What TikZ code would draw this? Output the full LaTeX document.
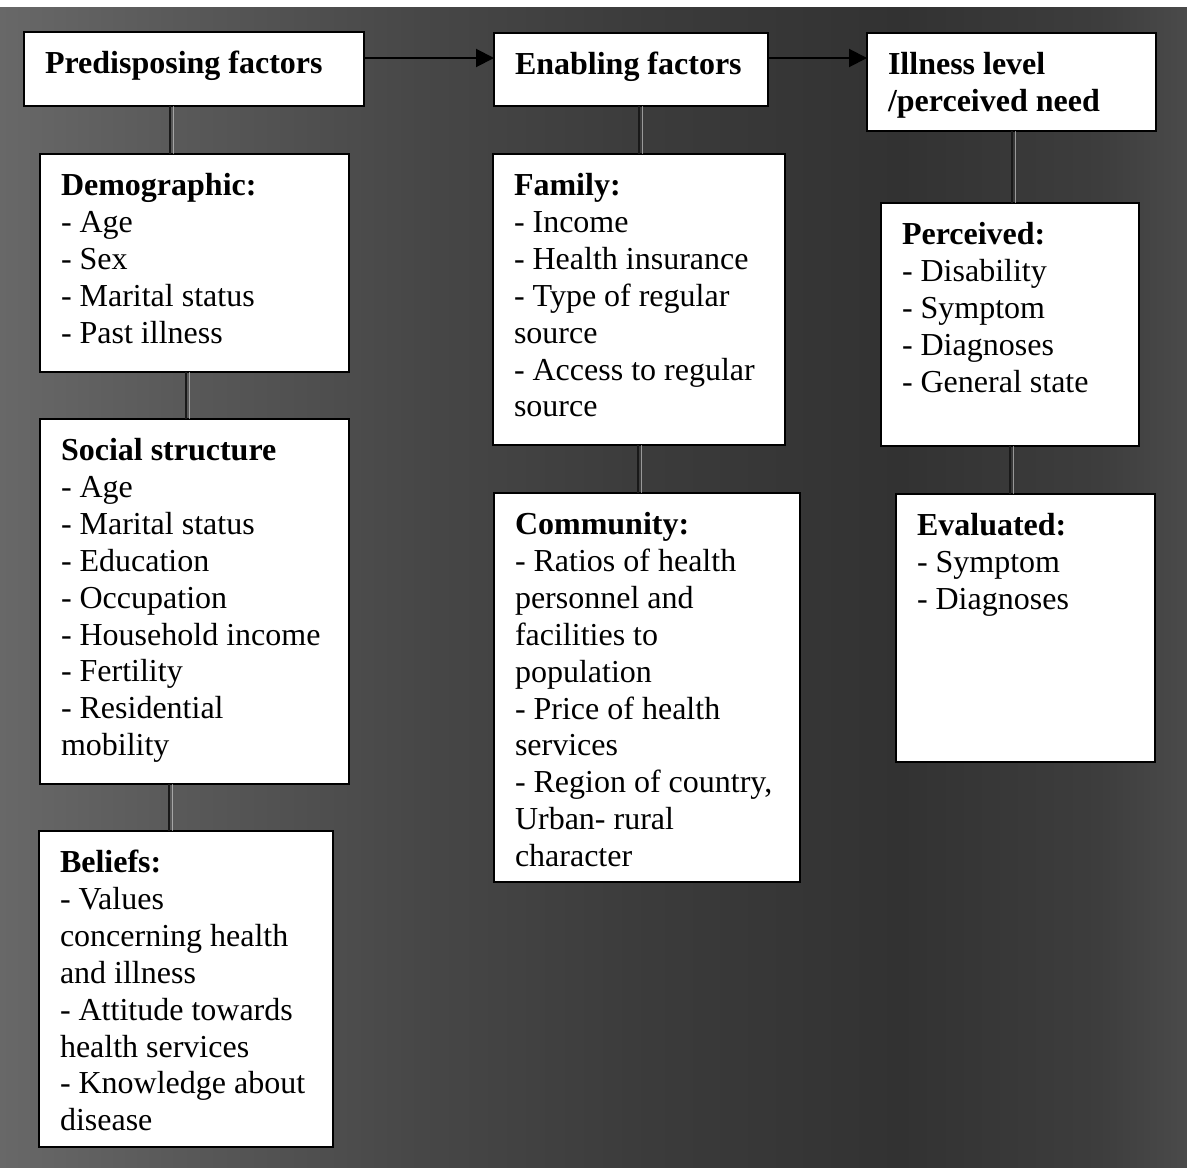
\documentclass[tikz,border=0pt]{standalone}
\usepackage{fontspec}
\setmainfont{Liberation Serif}
\usetikzlibrary{arrows.meta}
\newlength\pxu
\setlength\pxu{0.5pt}
\newcommand\boxtext[3]{\parbox[t][#2\pxu][t]{#1\pxu}{\leftskip=21\pxu\relax\rightskip=0pt plus 1fil\relax\parfillskip=0pt plus 1fil\relax\rule{0pt}{41.5\pxu}#3}}
\definecolor{bgA}{HTML}{686868}
\definecolor{bgB}{HTML}{5A5A5A}
\definecolor{bgC}{HTML}{474747}
\definecolor{bgD}{HTML}{3B3B3B}
\definecolor{bgE}{HTML}{323232}
\definecolor{bgF}{HTML}{3D3D3D}
\definecolor{bgG}{HTML}{4A4A4A}
\pgfdeclarehorizontalshading{bgshade}{100bp}{color(0bp)=(bgA); color(25bp)=(bgA); color(32bp)=(bgB); color(42.7bp)=(bgC); color(52.4bp)=(bgD); color(62.9bp)=(bgE); color(71.3bp)=(bgF); color(75bp)=(bgG); color(100bp)=(bgG)}
\tikzset{
  cbox/.style={draw=black, line width=1pt, fill=white, inner sep=0pt, outer sep=0pt, anchor=north west, font=\fontsize{16pt}{18.45pt}\selectfont, text=black},
  conn/.style={line width=0.8pt, draw=black!90},
  connhi/.style={line width=0.7pt, draw=white!70!gray, opacity=0.6},
  arrowln/.style={line width=1pt, draw=black, -{Triangle[length=9pt, width=9pt]}}
}
\begin{document}
\begin{tikzpicture}[x=0.5pt, y=-0.5pt]
\useasboundingbox (0,0) rectangle (1187,1167);
\fill[white] (0,0) rectangle (1187,1167);
\shade[shading=bgshade] (0,7) rectangle (1187,1167);

% top row
\node[cbox] (pred) at (24,32) {\boxtext{340}{74}{\textbf{Predisposing factors}}};
\node[cbox] (enab) at (494,33) {\boxtext{274}{73}{\textbf{Enabling factors}}};
\node[cbox] (ill) at (867,33) {\boxtext{289}{98}{\textbf{Illness level}\\\textbf{/perceived need}}};

% left column
\node[cbox] (demo) at (40,154) {\boxtext{309}{218}{\textbf{Demographic:}\\- Age\\- Sex\\- Marital status\\- Past illness}};
\node[cbox] (soc) at (40,419) {\boxtext{309}{365}{\textbf{Social structure}\\- Age\\- Marital status\\- Education\\- Occupation\\- Household income\\- Fertility\\- Residential\\mobility}};
\node[cbox] (bel) at (39,831) {\boxtext{294}{316}{\textbf{Beliefs:}\\- Values\\concerning health\\and illness\\- Attitude towards\\health services\\- Knowledge about\\disease}};

% middle column
\node[cbox] (fam) at (493,154) {\boxtext{292}{291}{\textbf{Family:}\\- Income\\- Health insurance\\- Type of regular\\source\\- Access to regular\\source}};
\node[cbox] (com) at (494,493) {\boxtext{306}{389}{\textbf{Community:}\\- Ratios of health\\personnel and\\facilities to\\population\\- Price of health\\services\\- Region of country,\\Urban- rural\\character}};

% right column
\node[cbox] (per) at (881,203) {\boxtext{258}{243}{\textbf{Perceived:}\\- Disability\\- Symptom\\- Diagnoses\\- General state}};
\node[cbox] (eva) at (896,494) {\boxtext{259}{268}{\textbf{Evaluated:}\\- Symptom\\- Diagnoses}};

% arrows
\coordinate (ay) at (0,58);
\draw[arrowln] (pred.east |- ay) -- (enab.west |- ay);
\draw[arrowln] (enab.east |- ay) -- (ill.west |- ay);

% vertical connectors
\coordinate (c1) at (170,0);
\coordinate (c2) at (186,0);
\coordinate (c3) at (169,0);
\coordinate (c4) at (639,0);
\coordinate (c5) at (638,0);
\coordinate (c6) at (1012,0);
\coordinate (c7) at (1010,0);
\foreach \a/\b/\c in {pred/demo/c1, demo/soc/c2, soc/bel/c3, enab/fam/c4, fam/com/c5, ill/per/c6, per/eva/c7}{
  \draw[connhi] ([xshift=1.6pt]\a.south -| \c) -- ([xshift=1.6pt]\b.north -| \c);
  \draw[conn] (\a.south -| \c) -- (\b.north -| \c);
}
\end{tikzpicture}
\end{document}
